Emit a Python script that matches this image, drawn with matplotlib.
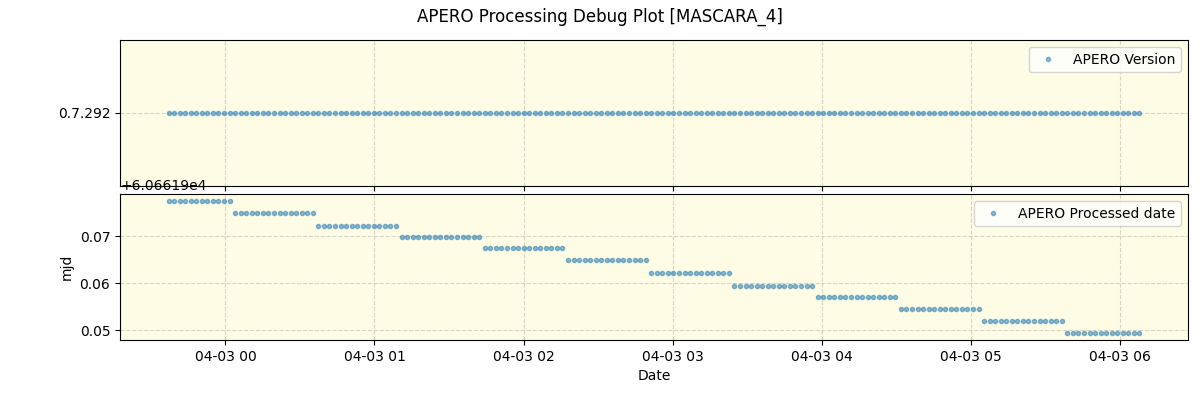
import datetime as dt
import matplotlib
matplotlib.use("Agg")
import matplotlib.pyplot as plt
import matplotlib.dates as mdates

start_time = dt.datetime(2024, 4, 2, 23, 37, 6)
cadence_s = 134
group_sizes = [12, 15, 15, 15, 15, 15, 15, 15, 15, 15, 15, 14]
mjd_base = 60661.9
group_mjd = [0.0776, 0.0750, 0.0723, 0.0699, 0.0674, 0.0649,
             0.0621, 0.0595, 0.0570, 0.0544, 0.0519, 0.0493]
version = "0.7.292"

times = []
mjds = []
k = 0
for size, val in zip(group_sizes, group_mjd):
    for i in range(size):
        times.append(start_time + dt.timedelta(seconds=cadence_s * k))
        mjds.append(mjd_base + val)
        k += 1
versions = [version] * len(times)

bg = '#fefce4'
fig, (ax1, ax2) = plt.subplots(2, 1, sharex=True, figsize=(12, 4))
fig.subplots_adjust(left=0.1, right=0.99, top=0.9, bottom=0.15, hspace=0.055)
fig.suptitle("APERO Processing Debug Plot [MASCARA_4]")

ax1.plot(times, versions, '.', color='C0', alpha=0.5, label="APERO Version")
ax1.legend(loc='upper right')

ax2.plot(times, mjds, '.', color='C0', alpha=0.5, label="APERO Processed date")
ax2.legend(loc='upper right')
ax2.set_ylabel("mjd")
ax2.set_xlabel("Date")

for ax in (ax1, ax2):
    ax.set_facecolor(bg)
    ax.grid(True, linestyle='--', alpha=0.5)

ax2.xaxis.set_major_locator(mdates.HourLocator())
ax2.xaxis.set_major_formatter(mdates.DateFormatter('%m-%d %H'))

plt.savefig("out.png", dpi=100)
